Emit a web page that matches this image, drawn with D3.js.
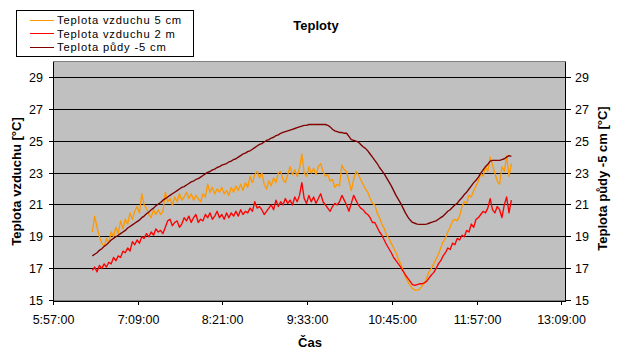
<!DOCTYPE html>
<html><head><meta charset="utf-8">
<script src="https://cdn.jsdelivr.net/npm/d3@7"></script>
<style>
body{margin:0;background:#fff}
text{font-family:"Liberation Sans",Arial,sans-serif;fill:#000}
</style>
</head><body><svg id="c" width="631" height="360"></svg>
<script>
// ---------- data ----------
const chartTitle = "Teploty";
const xTitle = "Čas";
const yTitleLeft = "Teplota vzduchu [°C]";
const yTitleRight = "Teplota půdy -5 cm [°C]";
const seriesNames = ["Teplota vzduchu 5 cm", "Teplota vzduchu 2 m", "Teplota půdy -5 cm"];
const seriesColors = ["#FF9900", "#FF0000", "#800000"];

const xTickLabels = ["5:57:00","7:09:00","8:21:00","9:33:00","10:45:00","11:57:00","13:09:00"];
const xAxisMin = "5:57:00", xAxisMax = "13:12:00";
const yTickValues = [15,17,19,21,23,25,27,29];
const yAxisMin = 15, yAxisMax = 30;

// logger sampling: first reading and interval (minutes)
const firstReading = "6:30:00";
const readingStepMin = 2;

// Teplota vzduchu 5 cm (one row = 30 min)
const air5cm = [
 19.3,20.3,19.6,19.0,18.6,18.4,18.9,18.6,19.3,19.0,19.6,19.2,20.0,19.5,20.1,
 19.8,20.5,20.1,20.6,20.9,20.5,21.7,21.0,20.8,20.4,20.2,20.7,20.4,20.7,20.4,
 20.6,21.8,21.2,21.4,21.0,21.5,21.2,21.7,21.3,21.5,21.8,21.4,21.7,21.3,21.6,
 21.4,21.2,21.7,21.5,22.3,21.8,22.1,21.7,22.0,21.8,22.1,21.7,21.9,21.6,22.1,
 21.8,22.2,21.9,22.3,21.9,22.4,22.1,22.8,22.4,22.9,23.1,22.7,23.0,22.3,22.0,
 22.5,22.2,22.7,22.4,23.0,23.1,22.6,22.4,22.9,23.4,22.9,23.2,22.8,23.3,24.2,
 23.0,22.8,23.4,23.0,23.3,22.9,23.4,23.6,23.1,22.8,22.9,22.5,22.6,22.1,22.3,
 22.2,23.5,23.2,23.1,22.5,21.9,22.6,23.1,22.9,22.6,22.3,22.0,21.8,21.4,21.1,
 21.0,20.5,20.2,19.8,19.5,19.1,18.9,18.6,18.3,18.0,17.6,17.3,16.9,16.5,16.2,
 15.95,15.75,15.65,15.65,15.7,15.9,16.1,16.4,16.8,17.0,17.3,17.6,17.9,18.3,18.7,
 18.9,19.3,19.6,20.0,20.1,20.0,20.3,20.9,21.2,21.1,21.6,21.5,21.9,22.2,22.5,
 23.0,22.8,23.4,23.1,24.0,23.5,23.0,22.5,22.3,23.4,23.1,24.1,22.8,23.6
];
// Teplota vzduchu 2 m
const air2m = [
 16.9,17.1,16.8,17.2,17.0,17.3,17.1,17.4,17.3,17.7,17.5,17.8,17.7,18.1,18.0,
 18.3,18.1,18.7,18.5,18.8,18.6,19.0,18.9,19.2,19.0,19.3,19.1,19.5,19.3,19.4,
 19.2,19.6,20.0,20.1,19.7,19.9,20.0,19.6,19.8,20.2,20.0,20.3,19.9,20.2,20.4,
 19.9,20.1,20.0,20.4,20.2,20.5,20.1,20.3,20.6,20.2,20.4,20.1,20.5,20.2,20.5,
 20.3,20.6,20.3,20.7,20.4,20.6,20.5,20.8,20.6,21.2,20.8,20.9,20.7,20.4,20.6,
 20.8,21.0,20.7,21.3,20.9,21.2,21.0,21.4,21.1,21.3,21.0,21.5,21.2,21.6,22.4,
 21.4,21.1,21.6,21.2,21.5,21.1,21.4,21.7,21.2,21.0,20.8,20.6,20.9,21.1,21.0,
 21.2,21.6,21.3,21.0,20.6,21.1,21.6,21.3,21.0,20.8,20.7,20.5,20.4,20.2,19.9,
 19.9,19.6,19.3,19.1,18.8,18.5,18.25,18.0,17.7,17.5,17.3,17.1,16.85,16.6,16.4,
 16.2,16.0,15.95,16.0,16.05,16.05,16.1,16.2,16.4,16.6,16.75,17.0,17.3,17.5,17.8,
 18.0,18.3,18.2,18.6,18.5,18.9,18.8,19.1,19.0,19.4,19.3,19.8,19.6,20.1,20.2,
 20.4,20.6,20.5,20.8,21.4,20.7,20.5,20.9,20.7,20.2,21.0,21.5,20.5,21.3
];
// Teplota půdy -5 cm
const soil5cm = [
 17.8,17.9,18.0,18.15,18.25,18.4,18.5,18.65,18.8,18.9,19.0,19.1,19.2,19.3,19.4,
 19.55,19.65,19.75,19.85,19.95,20.05,20.2,20.3,20.45,20.55,20.7,20.8,20.95,21.05,21.15,
 21.3,21.4,21.5,21.6,21.7,21.8,21.9,22.0,22.1,22.15,22.25,22.35,22.45,22.5,22.6,
 22.65,22.75,22.85,22.95,23.05,23.1,23.2,23.25,23.35,23.4,23.5,23.55,23.6,23.7,23.75,
 23.85,23.9,24.0,24.1,24.2,24.25,24.35,24.4,24.5,24.6,24.7,24.8,24.85,24.95,25.05,
 25.1,25.2,25.25,25.35,25.4,25.5,25.55,25.6,25.65,25.7,25.75,25.8,25.85,25.9,25.95,
 26.0,26.0,26.05,26.05,26.05,26.05,26.05,26.05,26.05,26.05,26.0,25.9,25.75,25.65,25.6,
 25.55,25.55,25.5,25.5,25.3,25.1,25.05,25.0,24.95,24.8,24.65,24.55,24.4,24.2,24.0,
 23.8,23.6,23.35,23.15,22.95,22.7,22.45,22.2,21.9,21.6,21.35,21.1,20.8,20.5,20.25,
 20.05,19.9,19.85,19.8,19.78,19.78,19.78,19.8,19.85,19.9,19.95,20.0,20.1,20.2,20.3,
 20.45,20.6,20.7,20.85,21.0,21.1,21.3,21.45,21.65,21.8,22.0,22.2,22.4,22.55,22.75,
 23.0,23.2,23.4,23.55,23.75,23.8,23.8,23.8,23.8,23.85,23.9,24.0,24.1,24.05
];

// ---------- drawing ----------
const toMin = s => { const p = s.split(":").map(Number); return p[0]*60 + p[1] + (p[2]||0)/60; };
const t0 = toMin(firstReading);
const mk = arr => arr.map((v,i) => ({t: t0 + i*readingStepMin, v}));
const series = [mk(air5cm), mk(air2m), mk(soil5cm)];

const svg = d3.select("#c");
svg.append("rect").attr("width",631).attr("height",360).attr("fill","#fff");

const L = 53.5, R = 565.5, T = 61.6, B = 300.5;
const x = d3.scaleLinear().domain([toMin(xAxisMin), toMin(xAxisMax)]).range([L, R]);
const y = d3.scaleLinear().domain([yAxisMin, yAxisMax]).range([B, T]);
const snap = v => Math.round(v - 0.5) + 0.5;

// plot area
svg.append("rect").attr("x",L).attr("y",snap(T)).attr("width",R-L).attr("height",B-snap(T))
  .attr("fill","#C0C0C0").attr("stroke","#808080").attr("stroke-width",1).attr("shape-rendering","crispEdges");

// gridlines
svg.append("g").selectAll("line").data(yTickValues.filter(v => v > yAxisMin)).join("line")
  .attr("x1",L).attr("x2",R).attr("y1",d=>snap(y(d))).attr("y2",d=>snap(y(d)))
  .attr("stroke","#000").attr("stroke-width",1).attr("shape-rendering","crispEdges");

// series
const line = d3.line().x(d=>x(d.t)).y(d=>y(d.v));
series.forEach((s,i) => {
  svg.append("path").datum(s).attr("d",line).attr("fill","none")
    .attr("stroke",seriesColors[i]).attr("stroke-width",1.35).attr("stroke-linejoin","round");
});

// axes
const styleAxis = g => {
  g.attr("font-size",null).attr("font-family",null);
  g.selectAll("line,path").attr("stroke","#000").attr("shape-rendering","crispEdges");
  g.selectAll("text").style("font-size","12.5px").attr("fill","#000");
};
svg.append("g").attr("transform",`translate(${L},0)`)
  .call(d3.axisLeft(y).tickValues(yTickValues).tickSize(5).tickSizeOuter(0).tickPadding(5.5).tickFormat(d3.format("d")))
  .call(styleAxis)
  .call(g => g.selectAll(".tick").attr("transform", d => `translate(0,${snap(y(d))})`))
  .call(g => g.select(".domain").attr("d", `M0,${snap(T)}V${B}`));
svg.append("g").attr("transform",`translate(${R},0)`)
  .call(d3.axisRight(y).tickValues(yTickValues).tickSize(5).tickSizeOuter(0).tickPadding(4.5).tickFormat(d3.format("d")))
  .call(styleAxis)
  .call(g => g.selectAll(".tick").attr("transform", d => `translate(0,${snap(y(d))})`))
  .call(g => g.select(".domain").attr("d", `M0,${snap(T)}V${B}`));
svg.append("g").attr("transform",`translate(0,${B})`)
  .call(d3.axisBottom(x).tickValues(xTickLabels.map(toMin)).tickSize(4).tickSizeOuter(0)
        .tickFormat((d,i) => xTickLabels[i]))
  .call(styleAxis)
  .call(g => g.selectAll(".tick").attr("transform", d => `translate(${snap(x(d))},0)`))
  .call(g => g.selectAll("text").attr("dy",null).attr("y",23));

// titles
svg.append("text").attr("x",316).attr("y",30).attr("text-anchor","middle")
  .style("font-size","13px").style("font-weight","bold").text(chartTitle);
svg.append("text").attr("x",310).attr("y",346.5).attr("text-anchor","middle")
  .style("font-size","13px").style("font-weight","bold").text(xTitle);
svg.append("text").attr("transform","translate(20.5,181.5) rotate(-90)").attr("text-anchor","middle")
  .style("font-size","13px").style("font-weight","bold").text(yTitleLeft);
svg.append("text").attr("transform","translate(606.5,178.5) rotate(-90)").attr("text-anchor","middle")
  .style("font-size","13px").style("font-weight","bold").text(yTitleRight);

// legend
const lg = svg.append("g");
lg.append("rect").attr("x",16.5).attr("y",10.5).attr("width",177).attr("height",46)
  .attr("fill","#fff").attr("stroke","#000").attr("shape-rendering","crispEdges");
const legendTexts = seriesNames.map((n,i) => {
  const cy = 19.8 + i*13.4;
  lg.append("line").attr("x1",30).attr("x2",54).attr("y1",Math.round(cy)+0.5).attr("y2",Math.round(cy)+0.5)
    .attr("stroke",seriesColors[i]).attr("stroke-width",1).attr("shape-rendering","crispEdges");
  return lg.append("text").attr("x",57).attr("y",cy+4.3).style("font-size","11.2px").text(n);
});
// widen letter spacing so the first entry spans ~125px as in the original
const w0 = legendTexts[0].node().getComputedTextLength();
const n0 = seriesNames[0].length;
const ls = w0 > 0 ? Math.max(0, (125 - w0) / n0) : 0;
legendTexts.forEach(t => t.style("letter-spacing", ls.toFixed(2) + "px"));
</script></body></html>
